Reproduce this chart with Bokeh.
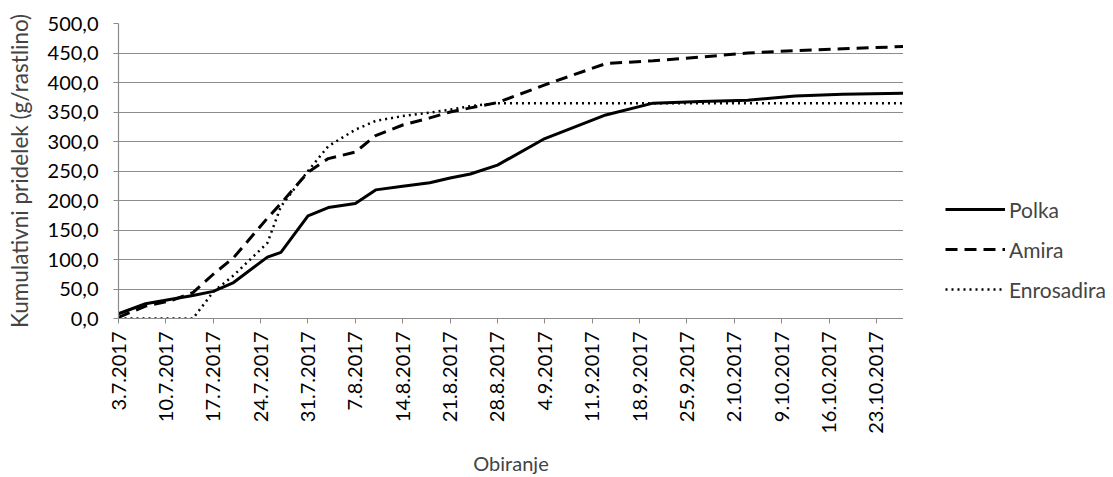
import pandas as pd
from bokeh.plotting import figure
from bokeh.layouts import row
from bokeh.models import Legend, LegendItem, FixedTicker, Range1d, CustomJSTickFormatter
from bokeh.embed import file_html
from bokeh.resources import INLINE

# ---- data ----
dates = ["3.7.2017", "7.7.2017", "11.7.2017", "14.7.2017", "17.7.2017", "20.7.2017",
         "25.7.2017", "27.7.2017", "31.7.2017", "3.8.2017", "7.8.2017", "10.8.2017",
         "14.8.2017", "18.8.2017", "21.8.2017", "24.8.2017", "28.8.2017", "4.9.2017",
         "13.9.2017", "20.9.2017", "27.9.2017", "4.10.2017", "11.10.2017", "18.10.2017",
         "27.10.2017"]
polka = [8, 25, 33, 39, 46, 61, 104, 112, 174, 188, 195, 218, 224, 230, 238, 245, 260,
         305, 345, 365, 368, 370, 377, 380, 382]
amira = [2, 21, 31, 44, 75, 103, 170, 195, 248, 271, 282, 310, 328, 340, 350, 357, 366,
         396, 432, 437, 443, 450, 454, 457, 461]
enrosadira = [0, 0, 0, 0, 45, 73, 128, 190, 250, 292, 320, 335, 343, 349, 354, 360, 365,
              365, 365, 365, 365, 365, 365, 365, 365]
series_names = ["Polka", "Amira", "Enrosadira"]
tick_labels = ["3.7.2017", "10.7.2017", "17.7.2017", "24.7.2017", "31.7.2017", "7.8.2017",
               "14.8.2017", "21.8.2017", "28.8.2017", "4.9.2017", "11.9.2017", "18.9.2017",
               "25.9.2017", "2.10.2017", "9.10.2017", "16.10.2017", "23.10.2017"]
y_ticks = [0, 50, 100, 150, 200, 250, 300, 350, 400, 450, 500]

start = pd.to_datetime(dates[0], format="%d.%m.%Y")
def day(s):
    return (pd.to_datetime(s, format="%d.%m.%Y") - start).days

x = [day(d) for d in dates]
tick_pos = [day(t) for t in tick_labels]
series = [polka, amira, enrosadira]

FONT = "Lato"
GRID = "#8c8c8c"
TICK_FS = "20px"
TITLE_FS = "20px"
LEGEND_FS = "21px"
styles = [dict(line_color="black", line_width=3),
          dict(line_color="black", line_width=3, line_dash="12 7"),
          dict(line_color="black", line_width=2.5, line_dash="2 4")]

p = figure(width=903, height=477, output_backend="svg", toolbar_location=None,
           x_range=Range1d(x[0], x[-1]), y_range=Range1d(0, 500),
           min_border_left=118, min_border_right=0, min_border_top=23, min_border_bottom=157)
p.outline_line_color = None
p.background_fill_color = "white"
p.border_fill_color = "white"

for vals, st in zip(series, styles):
    p.line(x, vals, **st)

p.xgrid.visible = False
p.ygrid.grid_line_color = GRID
p.ygrid.grid_line_width = 1.2
p.ygrid.ticker = FixedTicker(ticks=y_ticks)

# y axis
p.yaxis.ticker = FixedTicker(ticks=y_ticks)
p.yaxis.formatter = CustomJSTickFormatter(code="return tick.toFixed(1).replace('.', ',');")
p.yaxis.axis_line_color = GRID
p.yaxis.axis_line_width = 1.2
p.yaxis.major_tick_line_color = GRID
p.yaxis.major_tick_out = 5
p.yaxis.major_tick_in = 0
p.yaxis.minor_tick_line_color = None
p.yaxis.major_label_text_font = FONT
p.yaxis.major_label_text_font_size = TICK_FS
p.yaxis.major_label_text_color = "black"
p.yaxis.major_label_standoff = 15
p.yaxis.axis_label = "Kumulativni pridelek (g/rastlino)"
p.yaxis.axis_label_text_font = FONT
p.yaxis.axis_label_text_font_size = "22.5px"
p.yaxis.axis_label_text_font_style = "normal"
p.yaxis.axis_label_standoff = 12

# x axis
p.xaxis.ticker = FixedTicker(ticks=tick_pos)
p.xaxis.major_label_overrides = dict(zip(tick_pos, tick_labels))
p.xaxis.major_label_orientation = 3.14159265 / 2
p.xaxis.axis_line_color = GRID
p.xaxis.axis_line_width = 1.2
p.xaxis.major_tick_line_color = GRID
p.xaxis.major_tick_out = 5
p.xaxis.major_tick_in = 0
p.xaxis.minor_tick_line_color = None
p.xaxis.major_label_text_font = FONT
p.xaxis.major_label_text_font_size = TICK_FS
p.xaxis.major_label_text_color = "black"
p.xaxis.major_label_standoff = 8
p.xaxis.axis_label = "Obiranje"
p.xaxis.axis_label_text_font = FONT
p.xaxis.axis_label_text_font_size = TITLE_FS
p.xaxis.axis_label_text_font_style = "normal"
p.xaxis.axis_label_standoff = 14

# legend panel: separate figure to the right; its ranges are far from the data,
# so its lines are only used for the legend samples
q = figure(width=210, height=477, output_backend="svg", toolbar_location=None,
           x_range=Range1d(10000, 10001), y_range=Range1d(10000, 10001),
           x_axis_type=None, y_axis_type=None,
           min_border_left=0, min_border_right=0, min_border_top=23, min_border_bottom=157)
q.outline_line_color = None
q.xgrid.visible = False
q.ygrid.visible = False
items = []
for name, vals, st in zip(series_names, series, styles):
    r = q.line(x, vals, **st)
    items.append(LegendItem(label=name, renderers=[r]))
legend = Legend(items=items, location=(42, 16), orientation="vertical",
                glyph_width=60, glyph_height=26, label_height=26, spacing=14,
                padding=0, margin=0, label_standoff=4,
                label_text_font=FONT, label_text_font_size=LEGEND_FS,
                border_line_color=None, background_fill_alpha=0)
q.add_layout(legend)

layout = row(p, q)
open("out.html", "w").write(file_html(layout, INLINE))
